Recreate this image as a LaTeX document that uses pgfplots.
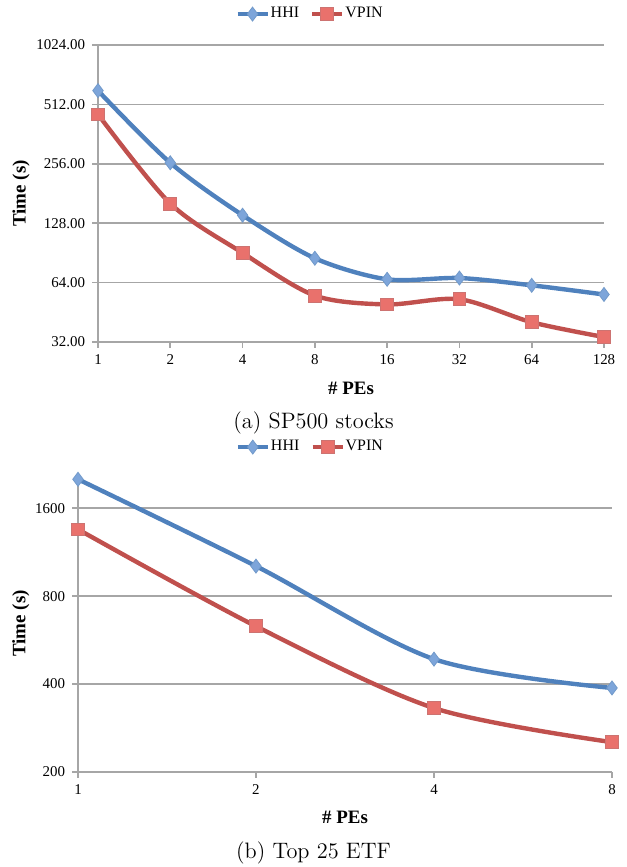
\documentclass[border=0pt]{standalone}
\usepackage{fontspec}
\usepackage{pgfplots}
\pgfplotsset{compat=1.18}
\newfontfamily\tnr{Liberation Serif}
\definecolor{hhiline}{HTML}{4F81BD}
\definecolor{hhifill}{HTML}{7DA5DA}
\definecolor{vpinline}{HTML}{C0504D}
\definecolor{vpinfill}{HTML}{E9716C}
\definecolor{gridgray}{HTML}{A6A6A6}
\pgfplotsset{
  legend image code/.code={\draw[mark repeat=2,mark phase=2,#1]
    plot coordinates {(0bp,0bp)(7.5bp,0bp)(15bp,0bp)};},
  every axis/.append style={
    scale only axis,
    axis lines*=left,
    axis line style={draw=gridgray, line width=0.8bp},
    tick style={draw=gridgray, line width=0.8bp},
    major tick length=3bp,
    tick align=outside,
    ymajorgrids,
    grid style={draw=gridgray, line width=0.8bp},
    tick label style={font=\tnr\fontsize{7.5}{9}\selectfont},
    label style={font=\tnr\bfseries\fontsize{9.5}{11}\selectfont},
    clip=false,
    legend columns=2,
    legend style={draw=none, fill=none, anchor=center,
      font=\tnr\fontsize{8}{9}\selectfont,
      nodes={inner xsep=0.5bp},
      /tikz/every even column/.append style={column sep=5bp}},
  },
}
\tikzset{
  hhi/.style={color=hhiline, line width=2.2bp, smooth, mark=diamond*, mark size=3.5bp,
    mark options={fill=hhifill, draw=hhiline!80, line width=0.4bp}},
  vpin/.style={color=vpinline, line width=2.2bp, smooth, mark=square*, mark size=3.2bp,
    mark options={fill=vpinfill, draw=vpinline!80, line width=0.4bp}},
}
\begin{document}
\begin{tikzpicture}
\path[use as bounding box] (0,0) rectangle (313.5bp,433.5bp);
% (a) SP500 stocks
\begin{axis}[
  at={(49bp,262.5bp)}, anchor=south west,
  width=253bp, height=148.5bp,
  xmode=log, log basis x=2, ymode=log, log basis y=2,
  xmin=1, xmax=128, ymin=32, ymax=1024,
  xtick={1,2,4,8,16,32,64,128},
  xticklabels={1,2,4,8,16,32,64,128},
  ytick={32,64,128,256,512,1024},
  yticklabels={32.00,64.00,128.00,256.00,512.00,1024.00},
  minor xtick={}, minor ytick={},
  xlabel={\# PEs}, ylabel={Time (s)},
  xlabel style={at={(axis description cs:0.5,-0.155)}, anchor=center},
  ylabel style={at={(axis description cs:-0.152,0.5)}, anchor=center, rotate=0},
  legend style={at={(0.418,1.104)}},
]
\addplot[hhi] coordinates {
  (1,601) (2,259) (4,140.5) (8,85) (16,66.5) (32,67.5) (64,62) (128,55.7)
};
\addplot[vpin] coordinates {
  (1,456) (2,161) (4,90.5) (8,55) (16,49.6) (32,52.7) (64,40.3) (128,33.9)
};
\legend{HHI,VPIN}
\end{axis}
\node at (156.75bp,222bp) {\fontsize{11.2}{13}\selectfont (a) SP500 stocks};
% (b) Top 25 ETF
\begin{axis}[
  at={(39bp,47.5bp)}, anchor=south west,
  width=267bp, height=148.5bp,
  xmode=log, log basis x=2, ymode=log, log basis y=2,
  xmin=1, xmax=8, ymin=200, ymax=2080,
  xtick={1,2,4,8},
  xticklabels={1,2,4,8},
  ytick={200,400,800,1600},
  yticklabels={200,400,800,1600},
  minor xtick={}, minor ytick={},
  xlabel={\# PEs}, ylabel={Time (s)},
  xlabel style={at={(axis description cs:0.5,-0.154)}, anchor=center},
  ylabel style={at={(axis description cs:-0.107,0.5)}, anchor=center, rotate=0},
  legend style={at={(0.434,1.094)}},
]
\addplot[hhi] coordinates {
  (1,2011) (2,1014) (4,487) (8,388)
};
\addplot[vpin] coordinates {
  (1,1355) (2,631) (4,331) (8,253)
};
\legend{HHI,VPIN}
\end{axis}
\node at (156.75bp,7bp) {\fontsize{11.2}{13}\selectfont (b) Top 25 ETF};
\end{tikzpicture}
\end{document}
